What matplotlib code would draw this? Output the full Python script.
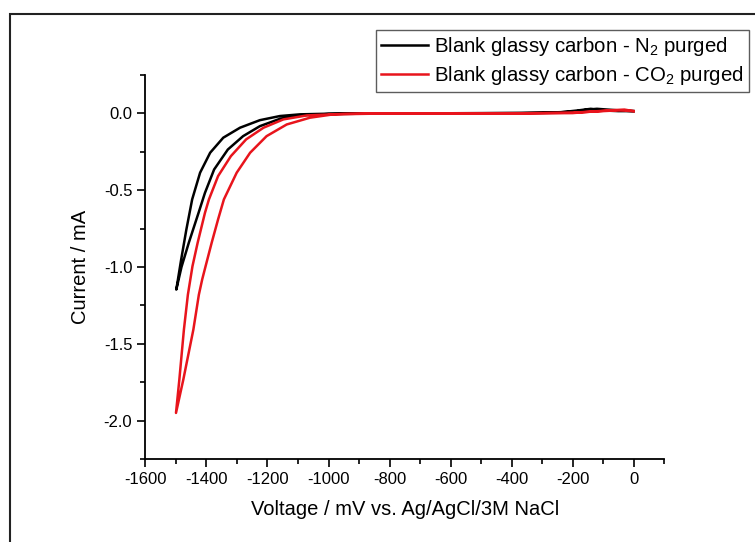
import matplotlib
matplotlib.use("Agg")
import matplotlib.pyplot as plt
from matplotlib.patches import Rectangle
from matplotlib.ticker import MultipleLocator

plt.rcParams['font.family'] = ['Liberation Sans', 'DejaVu Sans']
plt.rcParams['mathtext.fontset'] = 'custom'
plt.rcParams['mathtext.rm'] = 'Liberation Sans'
plt.rcParams['axes.unicode_minus'] = False

# N2 purged CV loop (voltage in mV, current in mA)
n2_v = [0, -50, -120, -150, -200, -300, -500, -700, -900, -1000, -1093, -1159,
        -1225, -1290, -1345, -1388, -1421, -1447, -1466, -1483, -1499,
        -1482, -1458, -1426, -1405, -1375, -1330, -1280, -1225,
        -1159, -1093, -1000, -800, -600, -400, -250, -180, -140, -110, -50, 0]
n2_i = [0.015, 0.02, 0.03, 0.025, 0.01, 0.005, 0.002, 0.0, 0.0, -0.002, -0.006, -0.017,
        -0.044, -0.093, -0.158, -0.256, -0.386, -0.56, -0.756, -0.951, -1.147,
        -1.0, -0.842, -0.647, -0.517, -0.365, -0.235, -0.148, -0.083,
        -0.035, -0.013, -0.004, 0.0, 0.0, 0.0, 0.005, 0.02, 0.03, 0.02, 0.015, 0.015]

# CO2 purged CV loop
co2_v = [0, -50, -100, -200, -400, -600, -800, -950, -1071, -1148, -1213, -1270,
         -1320, -1362, -1392, -1405, -1429, -1446, -1461, -1474, -1489, -1500,
         -1476, -1443, -1425, -1414, -1403, -1383, -1362, -1343, -1301, -1257, -1203,
         -1137, -1061, -984, -800, -600, -400, -200, -150, -80, -30, 0]
co2_i = [0.015, 0.02, 0.015, 0.005, 0.0, 0.0, 0.0, -0.003, -0.013, -0.039, -0.093, -0.169,
         -0.278, -0.408, -0.56, -0.647, -0.842, -0.995, -1.18, -1.407, -1.733, -1.95,
         -1.733, -1.407, -1.18, -1.08, -0.995, -0.842, -0.69, -0.56, -0.386, -0.256, -0.148,
         -0.072, -0.028, -0.006, 0.0, 0.0, 0.0, 0.002, 0.01, 0.02, 0.025, 0.015]

x_ticks = list(range(-1600, 1, 200))

fig = plt.figure(figsize=(7.55, 5.42), dpi=100)
ax = fig.add_axes([0.1927, 0.1531, 0.6868, 0.7085])

ax.plot(n2_v, n2_i, color='black', lw=1.8,
        label='Blank glassy carbon - N$_\\mathregular{2}$ purged')
ax.plot(co2_v, co2_i, color='#e8141c', lw=1.8,
        label='Blank glassy carbon - CO$_\\mathregular{2}$ purged')

ax.set_xlim(-1600, 100)
ax.set_ylim(-2.25, 0.25)
ax.set_xticks(x_ticks)
ax.xaxis.set_minor_locator(MultipleLocator(100))
ax.yaxis.set_major_locator(MultipleLocator(0.5))
ax.yaxis.set_minor_locator(MultipleLocator(0.25))

for s in ['top', 'right']:
    ax.spines[s].set_visible(False)
for s in ['left', 'bottom']:
    ax.spines[s].set_linewidth(1.3)
ax.tick_params(which='major', direction='out', length=6, width=1.2, labelsize=12)
ax.tick_params(which='minor', direction='out', length=3.5, width=1.2)

ax.set_xlabel('Voltage / mV vs. Ag/AgCl/3M NaCl', fontsize=14.5, labelpad=9)
ax.set_ylabel('Current / mA', fontsize=14.5, labelpad=10)

leg = fig.legend(loc='upper right', bbox_to_anchor=(0.992, 0.9446),
                 fontsize=14.7, handlelength=2.3, handletextpad=0.3,
                 borderpad=0.25, labelspacing=0.3, fancybox=False,
                 frameon=True, borderaxespad=0)
leg.get_frame().set_edgecolor('#333333')
leg.get_frame().set_linewidth(1.0)

fig.patches.append(Rectangle((10 / 755, -0.1), 1.2, 1.1 - 14 / 542,
                             transform=fig.transFigure, fill=False,
                             edgecolor='#222222', lw=1.5))

fig.savefig('out.png', dpi=100)
